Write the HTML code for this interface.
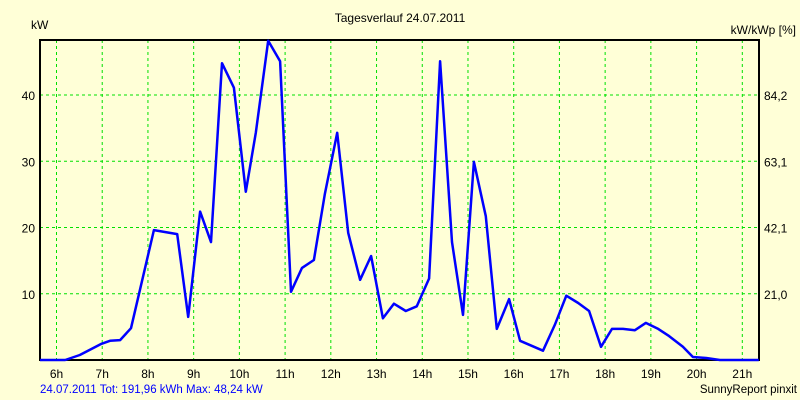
<!DOCTYPE html>
<html><head><meta charset="utf-8"><style>
body{margin:0;background:#ffffd7;}
svg{display:block;font-family:"Liberation Sans",sans-serif;font-size:12px;}
</style></head><body>
<svg id="chart" width="800" height="400">
<rect x="0" y="0" width="800" height="400" fill="#ffffd7"/>
<text x="400" y="22" text-anchor="middle" fill="#000">Tagesverlauf 24.07.2011</text>
<text x="31" y="29" fill="#000">kW</text>
<text x="796" y="34" text-anchor="end" fill="#000">kW/kWp [%]</text>
<g id="grid"></g>
<g id="ticks"></g>
<rect x="40" y="40" width="719" height="320" fill="none" stroke="#000" stroke-width="2"/>
<polyline id="line" fill="none" stroke="#0000ff" stroke-width="2.5" stroke-linejoin="round"/>
<text x="40" y="393" fill="#0000ff" font-size="11.5">24.07.2011 Tot: 191,96 kWh Max: 48,24 kW</text>
<text x="797" y="393" text-anchor="end" fill="#000" font-size="11.5">SunnyReport pinxit</text>
</svg>
<script>
const hours=[6,7,8,9,10,11,12,13,14,15,16,17,18,19,20,21];
const yTicks=[10,20,30,40];
const rightLabels=["21,0","42,1","63,1","84,2"];
const times=[5.64,6.19,6.51,6.97,7.17,7.39,7.63,8.13,8.64,8.88,9.14,9.38,9.62,9.88,10.14,10.36,10.63,10.89,11.13,11.37,11.63,11.87,12.14,12.38,12.64,12.88,13.14,13.38,13.64,13.88,14.15,14.39,14.65,14.89,15.13,15.39,15.63,15.9,16.14,16.64,16.9,17.15,17.41,17.65,17.91,18.15,18.39,18.65,18.89,19.16,19.4,19.7,19.92,20.21,20.51,21.36];
const power=[0,0,0.75,2.4,2.9,3.0,4.8,19.6,19.0,6.5,22.4,17.8,44.8,41.1,25.4,34.3,48.2,45.1,10.3,13.9,15.1,25.1,34.3,19.2,12.1,15.7,6.3,8.5,7.4,8.1,12.3,45.1,17.8,6.8,29.9,21.7,4.7,9.2,2.9,1.4,5.3,9.7,8.6,7.4,2.0,4.7,4.7,4.5,5.6,4.7,3.6,2.0,0.45,0.3,0,0];
const NS='http://www.w3.org/2000/svg';
const xs=h=>56.5+(h-6)*45.72;
const ys=v=>360-v*6.625;
const grid=document.getElementById('grid'),ticks=document.getElementById('ticks');
hours.forEach(h=>{
  const l=document.createElementNS(NS,'line');
  l.setAttribute('x1',xs(h));l.setAttribute('x2',xs(h));l.setAttribute('y1',40);l.setAttribute('y2',360);
  l.setAttribute('stroke','#00e000');l.setAttribute('stroke-dasharray','3,3');
  
  
  grid.appendChild(l);
  const t=document.createElementNS(NS,'text');
  t.setAttribute('x',xs(h));t.setAttribute('y',378);t.setAttribute('text-anchor','middle');
  t.textContent=h+'h';
  
  
  ticks.appendChild(t);
});
yTicks.forEach((v,i)=>{
  const l=document.createElementNS(NS,'line');
  l.setAttribute('x1',40);l.setAttribute('x2',759);l.setAttribute('y1',ys(v));l.setAttribute('y2',ys(v));
  l.setAttribute('stroke','#00e000');l.setAttribute('stroke-dasharray','3,3');
  
  
  grid.appendChild(l);
  const t=document.createElementNS(NS,'text');
  t.setAttribute('x',35);t.setAttribute('y',ys(v)+5);t.setAttribute('text-anchor','end');
  t.textContent=v;
  
  
  ticks.appendChild(t);
  const r=document.createElementNS(NS,'text');
  r.setAttribute('x',764);r.setAttribute('y',ys(v)+5);
  r.textContent=rightLabels[i];
  
  
  ticks.appendChild(r);
});
document.getElementById('line').setAttribute('points',times.map((t,i)=>xs(t).toFixed(1)+','+ys(power[i]).toFixed(1)).join(' '));
</script>
</body></html>
